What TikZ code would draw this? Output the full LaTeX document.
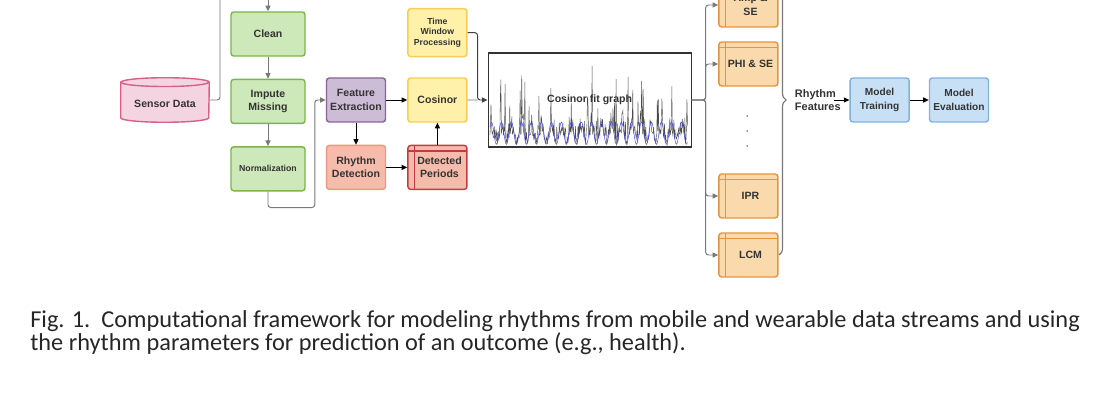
\documentclass[tikz,border=0pt]{standalone}
\usepackage{fontspec}
\setmainfont{Liberation Sans}
\newfontfamily\capfont{Carlito}
\usepackage{tikz}
\usetikzlibrary{positioning,calc,arrows.meta,decorations.pathreplacing,backgrounds}
\definecolor{txt}{RGB}{51,51,51}
\definecolor{lnk}{RGB}{120,120,120}
\definecolor{grF}{RGB}{205,232,185}\definecolor{grD}{RGB}{122,182,72}
\definecolor{pkF}{RGB}{244,212,224}\definecolor{pkD}{RGB}{214,96,136}
\definecolor{puF}{RGB}{205,188,214}\definecolor{puD}{RGB}{138,98,152}
\definecolor{rdF}{RGB}{245,188,172}\definecolor{rdD}{RGB}{244,148,128}
\definecolor{dpD}{RGB}{196,58,66}
\definecolor{ylF}{RGB}{255,240,170}\definecolor{ylD}{RGB}{248,204,88}
\definecolor{orF}{RGB}{250,218,172}\definecolor{orD}{RGB}{232,148,60}
\definecolor{blF}{RGB}{200,224,245}\definecolor{blD}{RGB}{128,178,222}
\definecolor{sig}{RGB}{70,70,230}
\def\BoxW{1.85cm}
\def\BoxH{1.1cm}
\def\SmW{1.475cm}
\def\Gap{0.55cm}
\def\CylR{1.1cm}
\def\CylE{0.11cm}
\tikzset{
  box/.style={draw,line width=1pt,rounded corners=2pt,align=center,text=txt,
    font=\fontsize{7.5}{9.5}\selectfont\bfseries,minimum width=\SmW,minimum height=\BoxH,inner sep=1pt},
  green/.style={box,fill=grF,draw=grD,minimum width=\BoxW},
  purple/.style={box,fill=puF,draw=puD},
  salmon/.style={box,fill=rdF,draw=rdD},
  yellow/.style={box,fill=ylF,draw=ylD},
  blue/.style={box,fill=blF,draw=blD,font=\fontsize{7.2}{9.5}\selectfont\bfseries},
  store/.style={path picture={
      \draw[#1,line width=0.8pt] ([xshift=4.5pt]path picture bounding box.north west) -- ([xshift=4.5pt]path picture bounding box.south west);
      \draw[#1,line width=0.8pt] ([yshift=-4pt]path picture bounding box.north west) -- ([yshift=-4pt]path picture bounding box.north east);}},
  orange/.style={box,fill=orF,draw=orD,store=orD},
  tiny/.style={font=\fontsize{6.2}{7.6}\selectfont\bfseries},
  gline/.style={draw=lnk,line width=0.7pt,rounded corners=2pt},
  garrow/.style={gline,-{Triangle[length=4pt,width=3.6pt]}},
  barrow/.style={draw=black,line width=0.7pt,rounded corners=2pt,-{Triangle[length=4pt,width=3.6pt]}},
}
\begin{document}
\begin{tikzpicture}
\useasboundingbox (0,0) rectangle (27.4,-10);
% pipeline
\node[green] (clean) at (6.7,-0.85) {Clean};
\node[green,below=\Gap of clean] (imp) {Impute\\Missing};
\node[green,below=\Gap of imp,tiny] (norm) {Normalization};
\node[minimum width=2.2cm,minimum height=1.1cm,inner sep=0pt] (sd) at (4.125,-2.5) {};
\draw[draw=pkD,fill=pkF,line width=1pt]
  ([yshift=-\CylE]sd.north west) -- ([yshift=\CylE]sd.south west)
  arc[start angle=180,end angle=360,x radius=\CylR,y radius=\CylE]
  -- ([yshift=-\CylE]sd.north east)
  arc[start angle=0,end angle=180,x radius=\CylR,y radius=\CylE] -- cycle;
\draw[draw=pkD,line width=1pt] ([yshift=-\CylE]sd.north west)
  arc[start angle=180,end angle=360,x radius=\CylR,y radius=\CylE];
\node[text=txt,font=\fontsize{7.5}{9}\selectfont\bfseries] at ([yshift=-0.1cm]sd.center) {Sensor Data};
\coordinate (up1) at (5.5,0.6);
\coordinate (up2) at (6.7,0.6);
% 
\node[purple] (fe) at (8.9,-2.5) {Feature\\Extraction};
\node[salmon,below=\Gap of fe] (rd) {Rhythm\\Detection};
\node[yellow,right=0.525cm of fe] (cos) {Cosinor};
\node[salmon,fill=rdF,draw=dpD,store=dpD,below=\Gap of cos] (dp) {\hspace{3pt}Detected\\\hspace{3pt}Periods};
\node[yellow,tiny,above=0.5cm of cos,minimum height=1.2cm] (twp) {Time\\Window\\Processing};
% graph
\node[draw=black!80,line width=0.8pt,minimum width=5.075cm,minimum height=2.35cm,
  font=\fontsize{7.5}{9}\selectfont\bfseries,text=txt] (fit) at (14.74,-2.5) {Cosinor fit graph};
\begin{scope}[on background layer,shift={(fit.south west)}]
  \clip (0,0) rectangle (5.075,2.35);
  \pgfmathsetseed{11}
  \draw[black!70,line width=0.3pt] plot[samples=380,domain=0.06:5.0]
    (\x,{0.07+0.6*rnd*rnd+0.14*(1-cos(\x*1440+40))+1.55*rnd^14});
  \draw[sig,line width=0.35pt] plot[samples=300,domain=0.06:5.0,smooth]
    (\x,{0.36-0.28*cos(\x*1440+40)});
\end{scope}
\coordinate (jn) at ($(cos.east)!0.5!(fit.west)$);
% features
\node[orange] (amp) at (18.71,-0.125) {\hspace{3pt}Amp \&\\[1pt]\hspace{3pt}SE};
\node[orange] (phi) at (18.71,-1.6) {\hspace{3pt}PHI \& SE};
\node[orange] (ipr) at (18.71,-4.9) {\hspace{3pt}IPR};
\node[orange] (lcm) at (18.71,-6.375) {\hspace{3pt}LCM};
\foreach \y in {-2.9,-3.275,-3.65}
  \fill[txt] (18.68,\y) circle (0.55pt);
\draw[lnk,line width=0.8pt,decorate,decoration={brace,amplitude=5pt}] (19.475,1.375) -- (19.475,-6.375);
\node[anchor=west,align=left,text=txt,font=\fontsize{7.8}{9.4}\selectfont\bfseries] (rf) at (19.75,-2.5) {Rhythm\\Features};
\node[blue] (mt) at (21.99,-2.5) {Model\\Training};
\node[blue,right=0.475cm of mt] (me) {Model\\Evaluation};
% 
\draw[gline] (sd.east) -| (up1);
\draw[garrow] (up2) -- (clean);
\draw[garrow] (clean) -- (imp);
\draw[garrow] (imp) -- (norm);
\draw[garrow] (norm.south) -- ++(0,-0.4) -| ($(fe.west)+(-0.275,0)$) -- (fe.west);
\draw[barrow] (fe) -- (cos);
\draw[barrow] (fe) -- (rd);
\draw[barrow] (rd) -- (dp);
\draw[barrow] (dp) -- (cos);
\draw[gline] (cos.east) -- (jn);
\draw[barrow,draw=black!75] (twp.east) -| (jn) -- (fit.west);
\foreach \b in {amp,phi,ipr,lcm}
  \draw[garrow] (fit.east) -- ++(0.35,0) |- (\b.west);
\draw[barrow] ([xshift=-0.3cm]rf.east) -- (mt);
\draw[barrow] (mt) -- (me);
% caption
\node[anchor=base west,align=left,inner sep=0pt,font=\capfont\fontsize{17.3}{17}\selectfont,text=black!85] (cap) at (0.75,-8.775)
  {Fig. 1.\ \ Computational framework for modeling rhythms from mobile and wearable data streams and using\\
   the rhythm parameters for prediction of an outcome (e.g., health).};
\end{tikzpicture}
\end{document}
